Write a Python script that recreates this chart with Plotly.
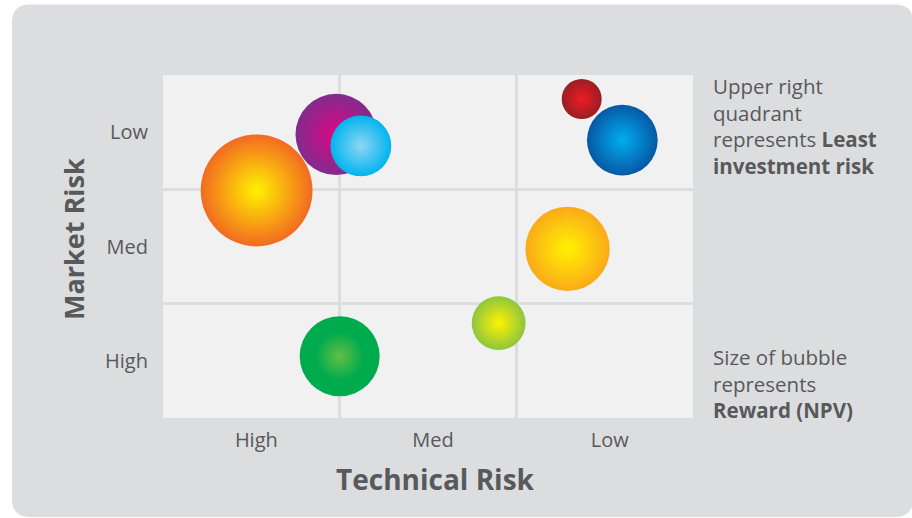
import plotly.graph_objects as go

# ---------------- data ----------------
risk_levels = ["High", "Med", "Low"]          # tick labels (both axes)
projects = ["Project A", "Project B", "Project C", "Project D",
            "Project E", "Project F", "Project G", "Project H"]
technical_risk = [0.53, 0.98, 1.12, 2.37, 2.60, 2.29, 1.90, 1.00]   # 0..3, High -> Low
market_risk = [1.99, 2.48, 2.38, 2.79, 2.43, 1.48, 0.83, 0.54]      # 0..3, High -> Low
reward_npv = [125, 66, 37, 16, 50, 71, 29, 64]                      # bubble size

edge_colors = ["#f26a21", "#822b8d", "#00b5ef", "#9a1e23",
               "#0758a5", "#fbaa19", "#8dc63f", "#00ab4e"]
center_colors = ["#fff200", "#dd0682", "#8ed5f3", "#ed1c24",
                 "#00aeef", "#fff200", "#fff200", "#00ab4e"]

# ---------------- layout geometry (pixels) ----------------
W, H = 912, 518
L, R, T, B = 163, 693, 75, 418
PW, PH = R - L, B - T

def px(x):
    return (x - L) / PW

def py(y):
    return (B - y) / PH

FONT = "Open Sans, Liberation Sans, Arial, sans-serif"
TXT = "#58595b"
PANEL = "#dcdddf"
PLOTBG = "#f1f1f2"

fig = go.Figure()

SIZEREF = 0.02
fig.add_trace(go.Scatter(
    x=technical_risk, y=market_risk, mode="markers", text=projects,
    marker=dict(size=reward_npv, sizemode="area", sizeref=SIZEREF,
                color=edge_colors, line=dict(width=0),
                gradient=dict(type="radial", color=center_colors),
                opacity=1),
    hoverinfo="text", showlegend=False))

# inner glow of the green bubble (last project)
fig.add_trace(go.Scatter(
    x=[technical_risk[-1]], y=[market_risk[-1]], mode="markers",
    marker=dict(size=[reward_npv[-1] * 0.36], sizemode="area", sizeref=SIZEREF,
                color="#00ab4e", line=dict(width=0),
                gradient=dict(type="radial", color="#8dc63f")),
    hoverinfo="skip", showlegend=False))

# ---------------- background panel (rounded) + plot area ----------------
x0, x1, y0, y1, r = 12, 913, 4.5, 517, 18
path = (f"M {px(x0 + r)},{py(y0)} L {px(x1 - r)},{py(y0)} "
        f"Q {px(x1)},{py(y0)} {px(x1)},{py(y0 + r)} "
        f"L {px(x1)},{py(y1 - r)} Q {px(x1)},{py(y1)} {px(x1 - r)},{py(y1)} "
        f"L {px(x0 + r)},{py(y1)} Q {px(x0)},{py(y1)} {px(x0)},{py(y1 - r)} "
        f"L {px(x0)},{py(y0 + r)} Q {px(x0)},{py(y0)} {px(x0 + r)},{py(y0)} Z")
shapes = [
    dict(type="path", path=path, xref="paper", yref="paper",
         fillcolor=PANEL, line=dict(width=0), layer="below"),
    dict(type="rect", x0=0, x1=1, y0=0, y1=1, xref="paper", yref="paper",
         fillcolor=PLOTBG, line=dict(width=0), layer="below"),
]

axis_common = dict(
    range=[0, 3], tickvals=[0.5, 1.5, 2.5], ticktext=risk_levels,
    showgrid=False, zeroline=False, showline=False, ticks="",
    tickfont=dict(family=FONT, size=20, color=TXT),
    minor=dict(tickvals=[1, 2], showgrid=True, gridcolor=PANEL, gridwidth=3),
    fixedrange=True,
)

annotations = []
def add_text(x, y, text, size=20, angle=0, xanchor="left"):
    annotations.append(dict(
        x=px(x), y=py(y), xref="paper", yref="paper", text=text,
        showarrow=False, xanchor=xanchor, yanchor="middle", textangle=angle,
        align="left", font=dict(family=FONT, size=size, color=TXT)))

# axis titles
add_text(435.5, 479, "<b>Technical Risk</b>", size=28, xanchor="center")
add_text(73, 239, "<b>Market Risk</b>", size=27, angle=-90, xanchor="center")

# side notes
add_text(711, 125.5, "Upper right<br>quadrant<br>represents <b>Least</b><br><b>investment risk</b>",
         size=20.5)
add_text(711, 383.5, "Size of bubble<br>represents<br><b>Reward (NPV)</b>", size=20.5)

fig.update_layout(
    width=W, height=H,
    margin=dict(l=L, r=W - R, t=T, b=H - B, pad=0),
    paper_bgcolor="white", plot_bgcolor="rgba(0,0,0,0)",
    xaxis=dict(**axis_common, ticklabelstandoff=8, ticklabelshift=5),
    yaxis=dict(**axis_common, ticklabelstandoff=14),
    shapes=shapes, annotations=annotations,
    showlegend=False,
)

fig.write_html("out.html", config={"displayModeBar": False})
